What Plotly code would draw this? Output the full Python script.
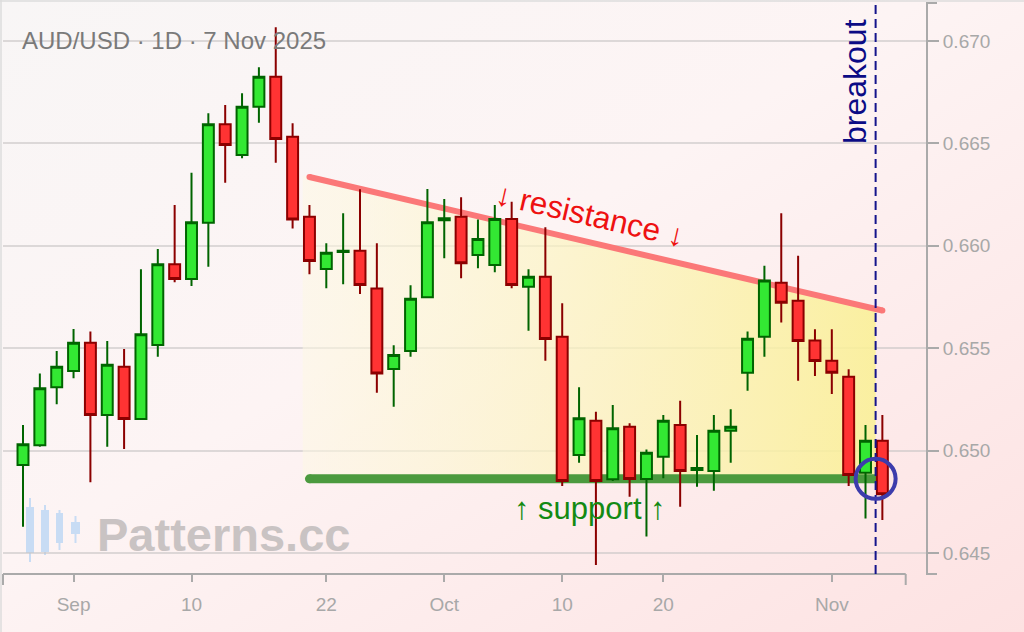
import base64
import numpy as np
import pandas as pd
import plotly.graph_objects as go

# ---------------- data ----------------
dates = pd.bdate_range("2025-08-27", "2025-11-06")  # trading days shown

opens = [0.64930, 0.65026, 0.65309, 0.65389, 0.65527, 0.65174, 0.65410, 0.65154, 0.65516, 0.65910,
         0.65838, 0.66113, 0.66593, 0.66443, 0.66679, 0.66826, 0.66533, 0.66142, 0.65887, 0.65970,
         0.65976, 0.65791, 0.65398, 0.65486, 0.65749, 0.66125, 0.66142, 0.65955, 0.65906, 0.66131,
         0.65800, 0.65849, 0.65556, 0.64979, 0.65146, 0.64860, 0.65117, 0.64861, 0.64970, 0.65125,
         0.64905, 0.64900, 0.65097, 0.65380, 0.65556, 0.65820, 0.65732, 0.65537, 0.65439, 0.65361,
         0.64892, 0.65048]
highs = [0.65125, 0.65377, 0.65486, 0.65594, 0.65581, 0.65535, 0.65496, 0.65885, 0.65984, 0.66199,
         0.66357, 0.66647, 0.66688, 0.66745, 0.66872, 0.67067, 0.66598, 0.66199, 0.66012, 0.66159,
         0.66276, 0.66012, 0.65514, 0.65807, 0.66277, 0.66229, 0.66237, 0.66129, 0.66199, 0.66215,
         0.65885, 0.66090, 0.65719, 0.65309, 0.65190, 0.65223, 0.65133, 0.65006, 0.65174, 0.65244,
         0.65076, 0.65174, 0.65202, 0.65581, 0.65903, 0.66159, 0.65952, 0.65592, 0.65592, 0.65397,
         0.65125, 0.65174]
lows = [0.64628, 0.65019, 0.65226, 0.65353, 0.64845, 0.65019, 0.65008, 0.65150, 0.65458, 0.65822,
        0.65804, 0.65898, 0.66308, 0.66427, 0.66601, 0.66406, 0.66084, 0.65861, 0.65793, 0.65812,
        0.65765, 0.65283, 0.65214, 0.65458, 0.65744, 0.65939, 0.65841, 0.65890, 0.65871, 0.65793,
        0.65585, 0.65439, 0.64827, 0.64941, 0.64441, 0.64852, 0.64775, 0.64580, 0.64865, 0.64726,
        0.64824, 0.64804, 0.64941, 0.65292, 0.65458, 0.65625, 0.65341, 0.65364, 0.65276, 0.64827,
        0.64669, 0.64661]
closes = [0.65031, 0.65304, 0.65410, 0.65527, 0.65174, 0.65419, 0.65154, 0.65568, 0.65910, 0.65838,
          0.66115, 0.66593, 0.66492, 0.66679, 0.66826, 0.66522, 0.66129, 0.65926, 0.65966, 0.65976,
          0.65809, 0.65377, 0.65467, 0.65742, 0.66115, 0.66135, 0.65915, 0.66033, 0.66131, 0.65809,
          0.65849, 0.65545, 0.64852, 0.65158, 0.64852, 0.65109, 0.64861, 0.64990, 0.65146, 0.64900,
          0.64915, 0.65097, 0.65117, 0.65546, 0.65830, 0.65722, 0.65535, 0.65438, 0.65380, 0.64881,
          0.65048, 0.64787]

tick_dates = ["2025-09-01", "2025-09-10", "2025-09-22", "2025-10-01", "2025-10-10", "2025-10-20", "2025-11-03"]
tick_text = ["Sep", "10", "22", "Oct", "10", "20", "Nov"]
y_ticks = [0.645, 0.650, 0.655, 0.660, 0.665, 0.670]

resistance_x = [17, 51]
resistance_y = [0.66336, 0.65684]
support_x = [17, 51]
support_level = 0.64862
zone_x = [16.6, 50.6]
breakout_x = 50.6

title_text = "AUD/USD · 1D · 7 Nov 2025"

# ---------------- layout geometry ----------------
W, H = 1024, 632
ML, MR, MT, MB = 3, 98, 3, 58
PW, PH = W - ML - MR, H - MT - MB
X_RANGE = [-1.187, 53.59]
Y_RANGE = [0.643975, 0.671855]
FONT = "Liberation Sans, Arial, sans-serif"


def px(xp):
    return (xp - ML) / PW


def py(yp):
    return (H - MB - yp) / PH


def res_at(xv):
    return resistance_y[0] + (resistance_y[1] - resistance_y[0]) * (xv - resistance_x[0]) / (resistance_x[1] - resistance_x[0])


x = list(range(len(dates)))
date_strs = [d.strftime("%Y-%m-%d") for d in dates]
tick_vals = [date_strs.index(d) for d in tick_dates]

fig = go.Figure()

# triangle zone
zx0, zx1 = zone_x
fig.add_trace(go.Scatter(
    x=[zx0, zx1, zx1, zx0, zx0],
    y=[res_at(zx0), res_at(zx1), support_level, support_level, res_at(zx0)],
    mode="lines", line=dict(width=0), fill="toself",
    fillgradient=dict(type="horizontal",
                      colorscale=[[0, "rgba(253,248,228,0.55)"], [1, "rgba(250,240,150,0.88)"]]),
    hoverinfo="skip", showlegend=False))

# resistance line
fig.add_trace(go.Scatter(
    x=resistance_x, y=resistance_y, mode="lines+markers",
    line=dict(color="#fb7878", width=6),
    marker=dict(size=6, color="#fb7878", line=dict(width=0)),
    hoverinfo="skip", showlegend=False))

# support line
fig.add_trace(go.Scatter(
    x=support_x, y=[support_level] * len(support_x), mode="lines+markers",
    line=dict(color="#4b9a3e", width=9),
    marker=dict(size=9, color="#4b9a3e", line=dict(width=0)),
    hoverinfo="skip", showlegend=False))

# candles (on an overlaying axis pair so they sit above the zone and lines)
fig.add_trace(go.Candlestick(
    x=x, open=opens, high=highs, low=lows, close=closes,
    text=date_strs, xaxis="x2", yaxis="y2",
    increasing=dict(fillcolor="#33e833", line=dict(color="#006400", width=2)),
    decreasing=dict(fillcolor="#ff3333", line=dict(color="#8b0000", width=2)),
    whiskerwidth=0, showlegend=False))

# background gradient
svg = ('<svg xmlns="http://www.w3.org/2000/svg" width="1024" height="632">'
       '<defs><linearGradient id="g" x1="0" y1="0" x2="1" y2="1">'
       '<stop offset="0" stop-color="#f8f6f6"/>'
       '<stop offset="0.45" stop-color="#fdf4f4"/>'
       '<stop offset="1" stop-color="#fde2e2"/>'
       '</linearGradient></defs>'
       '<rect width="1024" height="632" fill="url(#g)"/></svg>')
src = "data:image/svg+xml;base64," + base64.b64encode(svg.encode()).decode()

shapes = []
AX = "#aaaaaa"
# x-axis domain line with end caps
x_end = px(905.7)
shapes.append(dict(type="line", xref="paper", yref="paper", x0=0, x1=x_end, y0=0, y1=0,
                   line=dict(color=AX, width=2)))
for xe in (0, x_end):
    shapes.append(dict(type="line", xref="paper", yref="paper", x0=xe, x1=xe, y0=0, y1=py(585),
                       line=dict(color=AX, width=2)))
# y-axis end caps
for ye in (0, 1):
    shapes.append(dict(type="line", xref="paper", yref="paper", x0=1, x1=px(937), y0=ye, y1=ye,
                       line=dict(color=AX, width=2)))
# frame edges (top / left)
shapes.append(dict(type="line", xref="paper", yref="paper", x0=px(0), x1=px(1024), y0=py(1), y1=py(1),
                   line=dict(color="#dcdcdc", width=1.5)))
shapes.append(dict(type="line", xref="paper", yref="paper", x0=px(1), x1=px(1), y0=py(0), y1=py(632),
                   line=dict(color="#dcdcdc", width=1.5)))
# watermark icon
ICON = "#c8dcf4"
for (a, b, bt, bb, wt, wb) in [(26, 34, 507, 553, 498, 562), (41, 49, 510, 552, 505, 555),
                               (56, 63, 513, 543, 510, 550), (71, 80, 522, 534, 516, 543)]:
    cx = (a + b) / 2
    shapes.append(dict(type="line", xref="paper", yref="paper", x0=px(cx), x1=px(cx), y0=py(wt), y1=py(wb),
                       line=dict(color=ICON, width=2), layer="below"))
    shapes.append(dict(type="rect", xref="paper", yref="paper", x0=px(a), x1=px(b), y0=py(bt), y1=py(bb),
                       fillcolor=ICON, line=dict(width=0), layer="below"))
# breakout marker
shapes.append(dict(type="line", xref="x", yref="paper", x0=breakout_x, x1=breakout_x, y0=0, y1=py(0),
                   line=dict(color="#14148c", width=2, dash="9px,5px")))
shapes.append(dict(type="circle", xref="x", yref="y", xsizemode="pixel", ysizemode="pixel",
                   xanchor=breakout_x, yanchor=support_level, x0=-20, x1=20, y0=-20, y1=20,
                   line=dict(color="#3c3cac", width=4)))

annotations = [
    dict(text=title_text, xref="paper", yref="paper", x=px(20), y=py(41), xanchor="left", yanchor="middle",
         showarrow=False, font=dict(size=24, color="#7a7a7a", family=FONT)),
    dict(text="<b>Patterns.cc</b>", xref="paper", yref="paper", x=px(95), y=py(534), xanchor="left",
         yanchor="middle", showarrow=False, font=dict(size=47, color="#c9c3c3", family=FONT)),
    dict(text="breakout", xref="paper", yref="paper", x=px(855), y=py(82), xanchor="center", yanchor="middle",
         textangle=-90, showarrow=False, font=dict(size=32, color="#0b0b85", family=FONT)),
    dict(text="↓ resistance ↓", xref="x", yref="y", x=33.7, y=0.6615, textangle=13,
         showarrow=False, font=dict(size=31.5, color="#ee1111", family=FONT)),
    dict(text="↑ support ↑", xref="x", yref="y", x=33.65, y=0.64715,
         showarrow=False, font=dict(size=31, color="#138a13", family=FONT)),
]

tickfont = dict(size=19, color="#a8a8a8", family=FONT)
fig.update_layout(
    width=W, height=H,
    margin=dict(l=ML, r=MR, t=MT, b=MB, pad=0),
    paper_bgcolor="#fcf1f1", plot_bgcolor="rgba(0,0,0,0)",
    boxgap=0.35, boxgroupgap=0,
    showlegend=False,
    font=dict(family=FONT),
    images=[dict(source=src, xref="paper", yref="paper", x=px(0), y=py(0), sizex=W / PW, sizey=H / PH,
                 sizing="stretch", xanchor="left", yanchor="top", layer="below")],
    shapes=shapes,
    annotations=annotations,
    xaxis=dict(range=X_RANGE, tickvals=tick_vals, ticktext=tick_text, showgrid=False, zeroline=False,
               showline=False, ticks="outside", ticklen=7, tickwidth=2, tickcolor=AX,
               tickfont=tickfont, ticklabelstandoff=6,
               rangeslider=dict(visible=False), fixedrange=True),
    yaxis=dict(range=Y_RANGE, side="right", tickvals=y_ticks, tickformat=".3f", showgrid=True,
               gridcolor="rgba(200,196,196,0.6)", gridwidth=1.5, zeroline=False, showline=True,
               linecolor=AX, linewidth=2, ticks="outside", ticklen=11, tickwidth=2, tickcolor=AX,
               tickfont=tickfont, fixedrange=True),
    xaxis2=dict(overlaying="x", range=X_RANGE, visible=False, rangeslider=dict(visible=False),
                fixedrange=True),
    yaxis2=dict(overlaying="y", range=Y_RANGE, visible=False, fixedrange=True),
)

fig.write_html("out.html", config={"displayModeBar": False},
               post_script="document.body.style.margin='0';document.body.style.padding='0';")
